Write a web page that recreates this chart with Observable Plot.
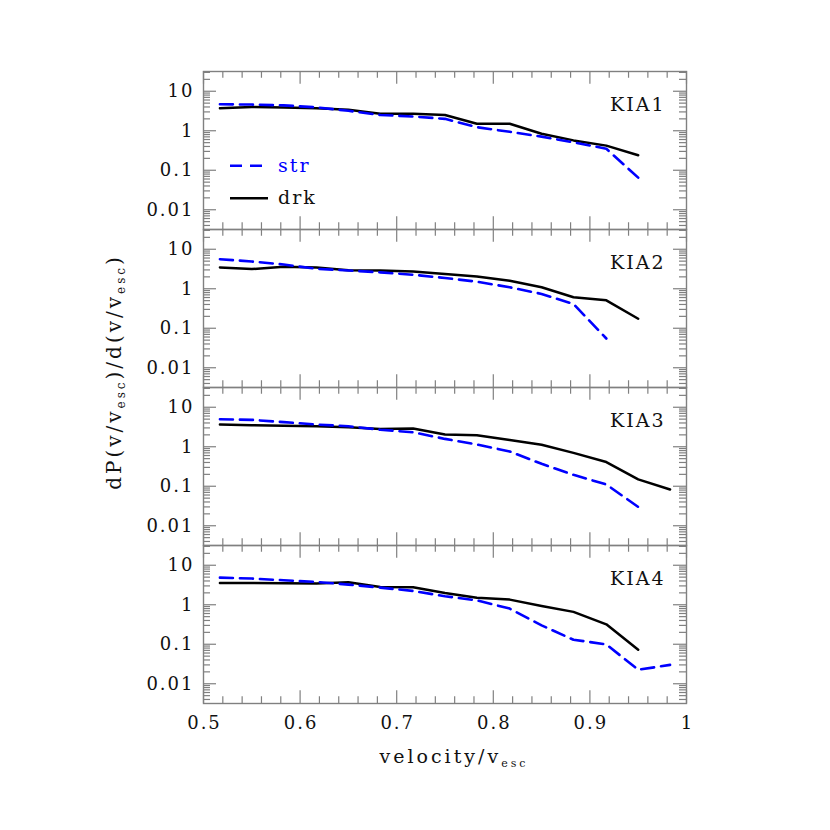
<!DOCTYPE html>
<html><head><meta charset="utf-8">
<script src="https://cdn.jsdelivr.net/npm/d3@7"></script>
<script src="https://cdn.jsdelivr.net/npm/@observablehq/plot@0.6"></script>
<style>
body{margin:0;background:#fff}
#chart svg text{letter-spacing:2px}
#chart svg text.title{letter-spacing:3px}
</style>
</head><body><div id="chart"></div>
<script>
// ---- data ----
const panels = ["KIA1", "KIA2", "KIA3", "KIA4"];
const velocity = [0.517, 0.55, 0.583, 0.617, 0.65, 0.683, 0.717, 0.75, 0.783, 0.817, 0.85, 0.883, 0.917, 0.95, 0.983];
const drk1 = [3.7, 4.0, 3.9, 3.7, 3.4, 2.7, 2.7, 2.5, 1.5, 1.5, 0.84, 0.57, 0.42, 0.24];
const str1 = [4.7, 4.6, 4.4, 3.9, 3.2, 2.5, 2.3, 2.0, 1.23, 0.94, 0.71, 0.51, 0.35, 0.065];
const drk2 = [3.46, 3.14, 3.6, 3.46, 2.96, 2.91, 2.74, 2.35, 2.05, 1.6, 1.09, 0.61, 0.51, 0.174];
const str2 = [5.6, 4.9, 4.1, 3.2, 2.9, 2.6, 2.26, 1.87, 1.51, 1.09, 0.74, 0.41, 0.055];
const drk3 = [3.65, 3.5, 3.4, 3.3, 3.1, 2.8, 2.9, 2.04, 1.96, 1.49, 1.12, 0.70, 0.41, 0.149, 0.083];
const str3 = [4.98, 4.8, 4.2, 3.65, 3.3, 2.7, 2.33, 1.58, 1.14, 0.76, 0.37, 0.195, 0.111, 0.030];
const drk4 = [3.56, 3.56, 3.5, 3.43, 3.7, 2.83, 2.77, 1.99, 1.51, 1.35, 0.93, 0.66, 0.32, 0.073];
const str4 = [4.86, 4.6, 4.17, 3.78, 3.24, 2.72, 2.23, 1.64, 1.29, 0.80, 0.30, 0.13, 0.099, 0.0226, 0.030];
const xTicks = [0.5, 0.6, 0.7, 0.8, 0.9, 1];
const xTickLabels = ["0.5", "0.6", "0.7", "0.8", "0.9", "1"];
const yTicks = [0.01, 0.1, 1, 10];
const yTickLabels = ["0.01", "0.1", "1", "10"];
const seriesNames = ["str", "drk"];

// ---- tidy table ----
const drkSets = [drk1, drk2, drk3, drk4];
const strSets = [str1, str2, str3, str4];
const rows = [];
panels.forEach((p, i) => {
  drkSets[i].forEach((v, j) => rows.push({panel: p, series: "drk", x: velocity[j], y: v}));
  strSets[i].forEach((v, j) => rows.push({panel: p, series: "str", x: velocity[j], y: v}));
});

// axis decorations
const xMinor = d3.range(26).map(i => +(0.5 + i * 0.02).toFixed(2)).filter(v => !xTicks.includes(v));
const yDomain = [Math.pow(10, -2.5), Math.pow(10, 1.5)];
const yMinor = [];
for (let e = -3; e <= 1; e++) for (let m = 2; m <= 9; m++) {
  const v = m * Math.pow(10, e);
  if (v > yDomain[0] && v < yDomain[1]) yMinor.push(v);
}

const W = 830, H = 830, mL = 203, mR = 144, mT = 70, mB = 127;
const fw = W - mL - mR, fh = (H - mT - mB) / 4;
const gray = "#808080";
const majL = 13, minL = 7;
const font = "DejaVu Serif";

const svg = Plot.plot({
  width: W, height: H,
  marginLeft: mL, marginRight: mR, marginTop: mT, marginBottom: mB,
  style: {fontFamily: font, fontSize: "18px", background: "#fff"},
  x: {domain: [0.5, 1]},
  y: {type: "log", domain: yDomain},
  fy: {domain: panels, padding: 0, axis: null},
  marks: [
    // ticks (mirrored, inward)
    Plot.tickX(xTicks, {x: d => d, insetTop: fh - majL, stroke: gray, strokeWidth: 1.2}),
    Plot.tickX(xTicks, {x: d => d, insetBottom: fh - majL, stroke: gray, strokeWidth: 1.2}),
    Plot.tickX(xMinor, {x: d => d, insetTop: fh - minL, stroke: gray, strokeWidth: 1.2}),
    Plot.tickX(xMinor, {x: d => d, insetBottom: fh - minL, stroke: gray, strokeWidth: 1.2}),
    Plot.tickY(yTicks, {y: d => d, insetRight: fw - majL, stroke: gray, strokeWidth: 1.2}),
    Plot.tickY(yTicks, {y: d => d, insetLeft: fw - majL, stroke: gray, strokeWidth: 1.2}),
    Plot.tickY(yMinor, {y: d => d, insetRight: fw - minL, stroke: gray, strokeWidth: 1.2}),
    Plot.tickY(yMinor, {y: d => d, insetLeft: fw - minL, stroke: gray, strokeWidth: 1.2}),
    Plot.frame({stroke: gray, strokeWidth: 1.4}),
    // data
    Plot.line(rows.filter(d => d.series === "drk"), {x: "x", y: "y", fy: "panel", stroke: "#000", strokeWidth: 2.5}),
    Plot.line(rows.filter(d => d.series === "str"), {x: "x", y: "y", fy: "panel", stroke: "#0000ff", strokeWidth: 2.6, strokeDasharray: "13,7"}),
    // panel names
    Plot.text(panels, {fy: d => d, text: d => d, frameAnchor: "top-right", textAnchor: "end", lineAnchor: "bottom", dx: -21, dy: 39, fontSize: 19, fill: "#111"}),
    // axes
    Plot.axisX(xTicks, {anchor: "bottom", tickSize: 0, tickPadding: 13, label: null, tickFormat: d => xTickLabels[xTicks.indexOf(d)], fill: "#111", dx: 1}),
    Plot.axisY(yTicks, {anchor: "left", tickSize: 0, tickPadding: 9, label: null, tickFormat: d => yTickLabels[yTicks.indexOf(d)], fill: "#111"})
  ]
});
document.getElementById("chart").appendChild(svg);

// legend and axis titles
const s = d3.select(svg);
const leg = s.append("g").attr("font-family", font).attr("font-size", 19).attr("text-anchor", "start");
const legendStyles = {str: {color: "#0000ff", dash: "12,8"}, drk: {color: "#000", dash: null}};
seriesNames.forEach((name, i) => {
  const yy = 165.7 + i * 32.6;
  leg.append("line").attr("x1", 230).attr("x2", 268).attr("y1", yy).attr("y2", yy)
    .attr("stroke", legendStyles[name].color).attr("stroke-width", 2.6)
    .attr("stroke-dasharray", legendStyles[name].dash);
  leg.append("text").attr("x", 278).attr("y", yy + 6).attr("fill", name === "str" ? "#0000ff" : "#111").text(name);
});

const xt = s.append("text").attr("class", "title").attr("font-family", font).attr("font-size", 19).attr("fill", "#111")
  .attr("text-anchor", "middle").attr("x", 454).attr("y", 763);
xt.append("tspan").text("velocity/v");
xt.append("tspan").attr("font-size", 11).attr("dy", 4).text("esc");

const yt = s.append("text").attr("class", "title").attr("font-family", font).attr("font-size", 20).attr("fill", "#111")
  .attr("text-anchor", "middle").attr("transform", "translate(121,372) rotate(-90)");
yt.append("tspan").text("dP(v/v");
yt.append("tspan").attr("font-size", 12).attr("dy", 4).text("esc");
yt.append("tspan").attr("dy", -4).text(")/d(v/v");
yt.append("tspan").attr("font-size", 12).attr("dy", 4).text("esc");
yt.append("tspan").attr("dy", -4).text(")");
</script>
</body></html>
